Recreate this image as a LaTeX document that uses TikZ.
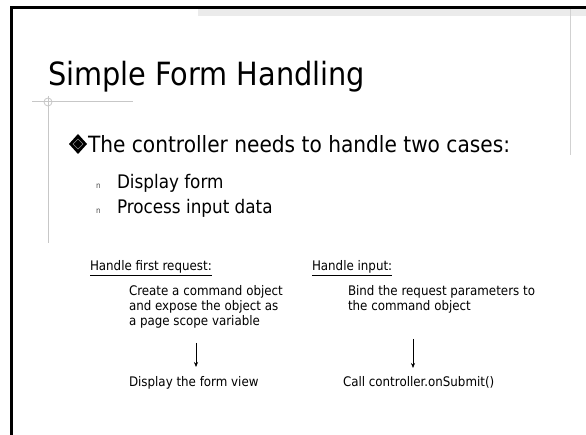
\documentclass[tikz,border=0pt]{standalone}
\usepackage{fontspec}
\setmainfont{DejaVu Sans Condensed}
\usetikzlibrary{arrows.meta}
\begin{document}
\begin{tikzpicture}[x=1pt,y=-1pt,
  txt/.style={anchor=base west,inner sep=0pt,outer sep=0pt},
  deco/.style={draw=black!22,line width=0.8pt},
  flow/.style={-{Stealth[length=5pt,width=4pt]},line width=0.6pt}]
\useasboundingbox (0,0) rectangle (586,435);
\fill[white] (0,0) rectangle (586,435);
% top band and frame
\fill[black!8] (198,9) rectangle (586,16);
\draw[line width=3pt] (11,435) -- (11,7.7) -- (586,7.7);
\draw[black!18,line width=1.5pt] (570.5,9) -- (570.5,155);
% title decoration
\draw[deco] (32,101.5) -- (133,101.5);
\draw[deco] (48,96) -- (48,243);
\draw[deco] (48,102) circle (4);
% title
\node[txt,font=\fontsize{32}{36}\selectfont] (title) at (48,85.5) {Simple Form Handling};
% main bullet
\fill[black] (78,134) -- (87,144) -- (78,154) -- (69,144) -- cycle;
\draw[black!45,line width=0.6pt] (78,139) -- (83,144) -- (78,149) -- (73,144) -- cycle;
\node[txt,font=\fontsize{22.4}{26}\selectfont] (main) at (88,152.5) {The controller needs to handle two cases:};
% sub bullets
\node[txt,font=\fontsize{8}{9}\selectfont,text=black!70] (n1) at (96,189) {n};
\node[txt,font=\fontsize{18.7}{22}\selectfont] (s1) at (117,189) {Display form};
\node[txt,font=\fontsize{8}{9}\selectfont,text=black!70] (n2) at (96,214) {n};
\node[txt,font=\fontsize{18.7}{22}\selectfont] (s2) at (117,214) {Process input data};
% lower section
\begin{scope}[every node/.append style={font=\fontsize{13.2}{16}\selectfont}]
\node[txt] (h1) at (90,271) {\underline{Handle first request:}};
\node[txt] (h2) at (312,271) {\underline{Handle input:}};
\node[txt] (c1a) at (129,295.5) {Create a command object};
\node[txt] (c1b) at (129,310.5) {and expose the object as};
\node[txt] (c1c) at (129,325.5) {a page scope variable};
\node[txt] (d1) at (129,386.5) {Display the form view};
\node[txt] (b1a) at (348,295.5) {Bind the request parameters to};
\node[txt] (b1b) at (348,310.5) {the command object};
\node[txt] (d2) at (343,386.5) {Call controller.onSubmit()};
\end{scope}
\coordinate (a1s) at (196,343);
\coordinate (a1e) at (196,367);
\coordinate (a2s) at (413,339);
\coordinate (a2e) at (413,368);
\draw[flow] (a1s) -- (a1e);
\draw[flow] (a2s) -- (a2e);
\end{tikzpicture}
\end{document}
